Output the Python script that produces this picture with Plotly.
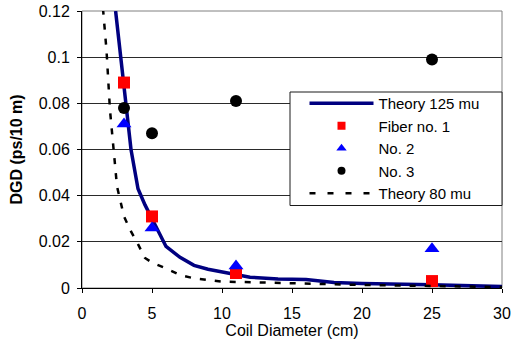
import plotly.graph_objects as go

# Theory curves
theory125_x = [2.4, 3, 3.5, 4, 4.5, 5, 6, 7, 8, 9, 10, 11, 12, 14, 16, 18, 20, 25, 30]
theory125_y = [0.12, 0.088, 0.060, 0.043, 0.036, 0.030, 0.018, 0.0133, 0.0098, 0.0081,
               0.0069, 0.006, 0.0047, 0.0039, 0.0037, 0.0024, 0.0020, 0.0014, 0.0006]
theory80_x = [1.5, 1.75, 2, 2.25, 2.5, 3, 3.5, 4, 4.5, 5, 6, 7, 8, 10, 12, 14, 16, 18, 20, 25, 30]
theory80_y = [0.121, 0.103, 0.077, 0.062, 0.044, 0.031, 0.0245, 0.019, 0.013, 0.011, 0.0085,
              0.0056, 0.0042, 0.0028, 0.0025, 0.0021, 0.0018, 0.0015, 0.0013, 0.0009, 0.0004]

# Measured fibers
coil_d = [3, 5, 11, 25]
fiber1_y = [0.089, 0.031, 0.0065, 0.003]
no2_y = [0.071, 0.026, 0.0095, 0.017]
no3_y = [0.078, 0.067, 0.081, 0.099]

names = ["Theory 125 mu", "Fiber no. 1", "No. 2", "No. 3", "Theory 80 mu"]

FONT = "Liberation Sans, Arial, sans-serif"

fig = go.Figure()
fig.add_trace(go.Scatter(x=theory125_x, y=theory125_y, mode="lines", name=names[0],
                         line=dict(color="#000080", width=3.5), showlegend=False,
                         legendgroup="a"))
fig.add_trace(go.Scatter(x=coil_d, y=fiber1_y, mode="markers", name=names[1],
                         marker=dict(symbol="square", color="#FF0000", size=12),
                         showlegend=False, legendgroup="b"))
fig.add_trace(go.Scatter(x=coil_d, y=no2_y, mode="markers", name=names[2],
                         marker=dict(symbol="triangle-up", color="#0000FF", size=13),
                         showlegend=False, legendgroup="c"))
fig.add_trace(go.Scatter(x=coil_d, y=no3_y, mode="markers", name=names[3],
                         marker=dict(symbol="circle", color="#000000", size=12),
                         showlegend=False, legendgroup="d"))
fig.add_trace(go.Scatter(x=theory80_x, y=theory80_y, mode="lines", name=names[4],
                         line=dict(color="#000000", width=2.5, dash="6px,9px"),
                         showlegend=False, legendgroup="e"))

# legend entries (smaller symbols, as in the reference legend)
fig.add_trace(go.Scatter(x=[None], y=[None], mode="lines", name=names[0],
                         line=dict(color="#000080", width=3.5), legendgroup="a"))
fig.add_trace(go.Scatter(x=[None], y=[None], mode="markers", name=names[1],
                         marker=dict(symbol="square", color="#FF0000", size=8), legendgroup="b"))
fig.add_trace(go.Scatter(x=[None], y=[None], mode="markers", name=names[2],
                         marker=dict(symbol="triangle-up", color="#0000FF", size=9), legendgroup="c"))
fig.add_trace(go.Scatter(x=[None], y=[None], mode="markers", name=names[3],
                         marker=dict(symbol="circle", color="#000000", size=8), legendgroup="d"))
fig.add_trace(go.Scatter(x=[None], y=[None], mode="lines", name=names[4],
                         line=dict(color="#000000", width=2.5, dash="6px,12px"), legendgroup="e"))

L, R, T, B = 82, 10, 11, 51
W, H = 512, 339
pw, ph = W - L - R, H - T - B

def px_x(p):
    return (p - L) / pw

def px_y(p):
    return (H - B - p) / ph

fig.update_layout(
    template="none",
    width=W, height=H,
    margin=dict(l=L, r=R, t=T, b=B, pad=0, autoexpand=False),
    paper_bgcolor="white", plot_bgcolor="white",
    font=dict(family=FONT, size=16, color="black"),
    xaxis=dict(range=[0, 30], dtick=5, tick0=0, showgrid=False, zeroline=False,
               automargin=False,
               showline=True, linecolor="black", linewidth=1,
               ticks="outside", ticklen=4, tickcolor="black", ticklabelstandoff=7,
               title=dict(text="Coil Diameter (cm)", font=dict(size=16), standoff=0)),
    yaxis=dict(range=[0, 0.12], dtick=0.02, tick0=0, showgrid=True, gridcolor="#2a2a2a",
               automargin=False,
               gridwidth=1, zeroline=False, showline=True, linecolor="black", linewidth=1,
               ticks="outside", ticklen=4, tickcolor="black", ticklabelstandoff=4,
               title=dict(text="<b>DGD (ps/10 m)</b>", font=dict(size=16), standoff=12)),
    legend=dict(x=px_x(304.5), y=px_y(87), xanchor="left", yanchor="top",
                bgcolor="rgba(0,0,0,0)", borderwidth=0, itemwidth=64,
                font=dict(family=FONT, size=15, color="black"),
                tracegroupgap=0, itemclick=False, itemdoubleclick=False),
    shapes=[
        dict(type="rect", xref="paper", yref="paper", x0=0, x1=1, y0=0, y1=1,
             line=dict(color="#808080", width=1), layer="below"),
        dict(type="rect", xref="paper", yref="paper", x0=px_x(290), x1=1,
             y0=px_y(205.5), y1=px_y(92), line=dict(color="#1a1a1a", width=1),
             fillcolor="white", layer="above"),
    ],
)

fig.write_html("out.html", config={"displayModeBar": False},
               post_script="document.body.style.margin='0';")
